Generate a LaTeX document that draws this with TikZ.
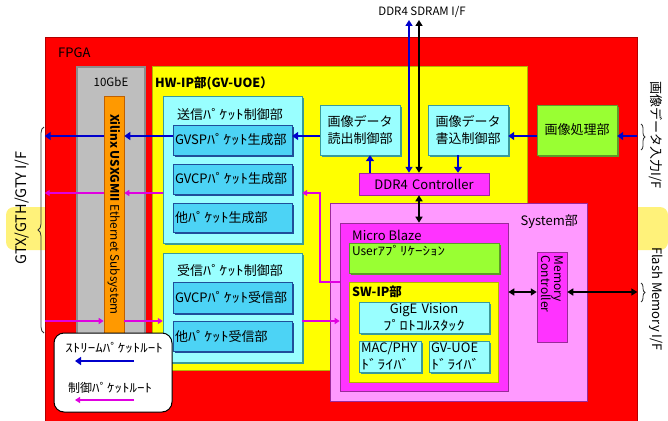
\documentclass[tikz,border=0pt]{standalone}
\usepackage{fontspec}
\setmainfont{Noto Sans CJK JP}
\newfontfamily\hkfont[FakeStretch=1.25]{Noto Sans CJK JP}
\newcommand\hk[1]{{\hkfont #1}}
\usetikzlibrary{arrows.meta,shadows,calc,decorations.pathreplacing}
\definecolor{cred}{HTML}{FF0000}
\definecolor{cband}{HTML}{FFF27A}
\definecolor{cyel}{HTML}{FFFF00}
\definecolor{cgray}{HTML}{BEBEBE}
\definecolor{cgrayd}{HTML}{8C8C8C}
\definecolor{corng}{HTML}{FF9900}
\definecolor{corngd}{HTML}{C06000}
\definecolor{ccyan}{HTML}{99FFFF}
\definecolor{ccyand}{HTML}{3A9A9A}
\definecolor{cblu}{HTML}{4CD3F5}
\definecolor{cblud}{HTML}{1F4F9A}
\definecolor{cgrn}{HTML}{99FF33}
\definecolor{cgrnd}{HTML}{5E9A2A}
\definecolor{cmag}{HTML}{FF33FF}
\definecolor{cmagd}{HTML}{9A2A9A}
\definecolor{cpink}{HTML}{FF99FF}
\definecolor{carrb}{HTML}{0000CC}
\definecolor{carrm}{HTML}{E000E0}
\newcommand\bx[8][center]{%
  \pgfmathsetmacro\bxw{#6-#4}\pgfmathsetmacro\bxh{#7-#5}%
  \pgfmathsetmacro\bxtw{#6-#4-4}%
  \node[#3, minimum width=\bxw pt, minimum height=\bxh pt, text width=\bxtw pt,
        align=#1, inner xsep=2pt, inner ysep=0pt] (#2) at ({(#4+#6)/2},{(#5+#7)/2}) {#8};}
\tikzset{
  shd/.style={copy shadow={shadow xshift=1.6pt, shadow yshift=-1.6pt, fill=#1, draw=none}},
  cyanbox/.style={fill=ccyan, draw=ccyand, line width=0.4pt, shd=ccyand},
  blubox/.style={fill=cblu, draw=cblud, line width=0.4pt, shd=cblud},
  grnbox/.style={fill=cgrn, draw=cgrnd, line width=0.4pt, shd=cgrnd},
  magbox/.style={fill=cmag, draw=cmagd, line width=0.5pt},
  barrow/.style={draw=carrb, line width=2.4pt, -{Triangle[length=6pt,width=8pt]}},
  bdbl/.style={draw=carrb, line width=2pt, {Triangle[length=6pt,width=7pt]}-{Triangle[length=6pt,width=7pt]}},
  kdbl/.style={draw=black, line width=2pt, {Triangle[length=6pt,width=7pt]}-{Triangle[length=6pt,width=7pt]}},
  marrow/.style={draw=carrm, line width=1.8pt, -{Triangle[length=5pt,width=6pt]}},
  brc/.style={draw=black!80, line width=0.8pt, decorate, decoration={brace, amplitude=#1}},
  lbl/.style={inner sep=0pt},
}
\begin{document}
\begin{tikzpicture}[x=1pt,y=-1pt,font=\fontsize{13}{17}\selectfont]
\useasboundingbox (0,0) rectangle (668,420);
\fill[white] (0,0) rectangle (668,420);
% pale band
\fill[cband, rounded corners=8pt] (668,207) -- (6,207) -- (6,250) -- (668,250) -- cycle;
% FPGA
\bx{fpga}{fill=cred, draw=cred!70!black, line width=0.6pt}{45}{37}{637}{424}{}
\node[lbl, anchor=west] (lfpga) at (58,53) {FPGA};
% 10GbE
\bx{gbe}{fill=cgray, draw=cgrayd, line width=1.2pt}{77}{67}{145}{335}{}
\node[lbl, font=\fontsize{11.5}{13}\selectfont] (lgbe) at (111,82) {10GbE};
\bx{orng}{fill=corng, draw=corngd, line width=0.6pt}{104}{96}{124}{333}{}
\node[lbl, rotate=-90, font=\fontsize{11.8}{13}\selectfont] (lorng) at (orng.center) {\textbf{Xilinx USXGMII} Ethernet Subsystem};
% HW-IP
\bx{hw}{fill=cyel, draw=cyel!70!black, line width=0.5pt}{152}{66}{527}{370}{}
\node[lbl, anchor=west, font=\bfseries\fontsize{12.5}{15}\selectfont] (lhw) at (155,83) {HW-IP部(GV-UOE）};
% transmit
\bx{tx}{cyanbox}{163}{96}{302}{243}{}
\node[lbl] (ltx) at (230,114) {送信\hk{ﾊﾟｹｯﾄ}制御部};
\bx[left]{gvsp}{blubox}{173}{125}{292}{155}{GVSP\hk{ﾊﾟｹｯﾄ}生成部}
\bx[left]{gvcp}{blubox}{173}{164}{292}{194}{GVCP\hk{ﾊﾟｹｯﾄ}生成部}
\bx[left]{oth}{blubox}{173}{203}{292}{232}{他\hk{ﾊﾟｹｯﾄ}生成部}
% receive
\bx{rx}{cyanbox}{163}{253}{302}{362}{}
\node[lbl] (lrx) at (230,270) {受信\hk{ﾊﾟｹｯﾄ}制御部};
\bx[left]{gvcpr}{blubox}{173}{282}{292}{313}{GVCP\hk{ﾊﾟｹｯﾄ}受信部}
\bx[left]{othr}{blubox}{173}{321}{292}{351}{他\hk{ﾊﾟｹｯﾄ}受信部}
% image data
\bx{rd}{cyanbox}{320}{105}{400}{155}{画像データ\\読出制御部}
\bx{wr}{cyanbox}{428}{105}{508}{155}{画像データ\\書込制御部}
\bx{proc}{grnbox}{537}{105}{617}{155}{画像処理部}
\bx{ddr}{magbox}{359}{173}{489}{195}{DDR4 Controller}
% System
\bx{sys}{fill=cpink, draw=cmagd, line width=0.6pt}{330}{203}{587}{401}{}
\node[lbl, anchor=east] (lsys) at (578,222) {System部};
\bx{mb}{fill=cmag, draw=cmagd, line width=0.6pt}{340}{223}{508}{391}{}
\node[lbl, anchor=west] (lmb) at (352,235) {Micro Blaze};
\bx{usr}{grnbox}{349}{243}{499}{273}{}
\node[lbl, anchor=north west, font=\fontsize{12}{14}\selectfont] (lusr) at ($(usr.north west)+(3,2)$) {User\hk{ｱﾌﾟﾘｹｰｼｮﾝ}};
\bx{sw}{fill=cyel, draw=cyel!70!black, line width=0.5pt}{349}{282}{498}{382}{}
\node[lbl, anchor=west, font=\bfseries\fontsize{12.5}{15}\selectfont] (lsw) at (352,292) {SW-IP部};
\bx{gige}{cyanbox}{359}{302}{489}{333}{GigE Vision\\\hk{ﾌﾟﾛﾄｺﾙｽﾀｯｸ}}
\bx[left]{macphy}{cyanbox, inner xsep=0pt}{359}{341}{421}{372}{MAC/PHY\\\hk{ﾄﾞﾗｲﾊﾞ}}
\bx[left]{gvuoe}{cyanbox}{429}{341}{489}{372}{GV-UOE\\\hk{ﾄﾞﾗｲﾊﾞ}}
\bx{mc}{magbox}{537}{252}{567}{342}{}
\node[lbl, rotate=-90, anchor=west, align=left, font=\fontsize{12}{13}\selectfont] (lmc) at ($(mc.north)+(0,4)$) {Memory\\Controller};
% legend
\bx{leg}{fill=white, draw=black, line width=1pt, rounded corners=10pt}{54}{333}{172}{412}{}
\node[lbl, font=\fontsize{12}{14}\selectfont] (lst) at (114,348) {\hk{ｽﾄﾘｰﾑﾊﾟｹｯﾄﾙｰﾄ}};
\node[lbl, font=\fontsize{12}{14}\selectfont] (lct) at (110,388) {制御\hk{ﾊﾟｹｯﾄﾙｰﾄ}};
\coordinate (la1) at (134,361); \coordinate (la2) at (75,361);
\coordinate (lm1) at (134,400); \coordinate (lm2) at (75,400);
\draw[barrow] (la1) -- (la2);
\draw[marrow] (lm1) -- (lm2);
% outside labels
\node[lbl, font=\fontsize{11.5}{13}\selectfont] (lddr) at (422,12) {DDR4 SDRAM I/F};
\node[lbl, rotate=90, font=\fontsize{14.5}{16}\selectfont] (lgtx) at (22,208) {GTX/GTH/GTY I/F};
\node[lbl, rotate=-90] (limg) at (656,135) {画像データ入力I/F};
\node[lbl, rotate=-90] (lfl) at (656,299) {Flash Memory I/F};
\coordinate (b1) at (44,333); \coordinate (b2) at (44,127);
\draw[brc=6pt] (b1) -- (b2);
\coordinate (b3) at (641,124); \coordinate (b4) at (641,150);
\draw[brc=4pt] (b3) -- (b4);
\coordinate (b5) at (641,283); \coordinate (b6) at (641,302);
\draw[brc=4pt] (b5) -- (b6);
% helper coordinates
\coordinate (yS) at (0,136);
\coordinate (yC) at (0,193);
\coordinate (yR) at (0,321);
\coordinate (yT) at (0,282);
\coordinate (yM) at (0,292);
\coordinate (xT) at (320,0);
\coordinate (xB) at (409,0);
\coordinate (xK) at (419,0);
\coordinate (xR) at (370,0);
\coordinate (xW) at (458,0);
\coordinate (ddrtop) at (0,20);
% stream arrows
\draw[barrow] (fpga.east |- yS) -- (proc.east |- yS);
\draw[barrow] (proc.west |- yS) -- (wr.east |- yS);
\draw[barrow] (rd.west |- yS) -- (gvsp.east |- yS);
\draw[barrow] (gvsp.west |- yS) -- (orng.east |- yS);
\draw[barrow] (orng.west |- yS) -- (fpga.west |- yS);
\draw[barrow] (ddr.north -| xR) -- (rd.south -| xR);
\draw[barrow] (wr.south -| xW) -- (ddr.north -| xW);
\draw[bdbl] (ddr.north -| xB) -- (xB |- ddrtop);
\draw[kdbl] (ddr.north -| xK) -- (xK |- ddrtop);
\draw[kdbl] (ddr.south -| xK) -- (mb.north -| xK);
\draw[kdbl] (mb.east |- yM) -- (mc.west |- yM);
\draw[kdbl] (mc.east |- yM) -- (fpga.east |- yM);
% control arrows
\draw[marrow] (tx.west |- yC) -- (orng.east |- yC);
\draw[marrow] (orng.west |- yC) -- (fpga.west |- yC);
\draw[marrow] (mb.west |- yT) -- (xT |- yT) -- (xT |- yC) -- (tx.east |- yC);
\draw[marrow] (fpga.west |- yR) -- (orng.west |- yR);
\draw[marrow] (orng.east |- yR) -- (rx.west |- yR);
\draw[marrow] (rx.east |- yR) -- (mb.west |- yR);
\end{tikzpicture}
\end{document}
